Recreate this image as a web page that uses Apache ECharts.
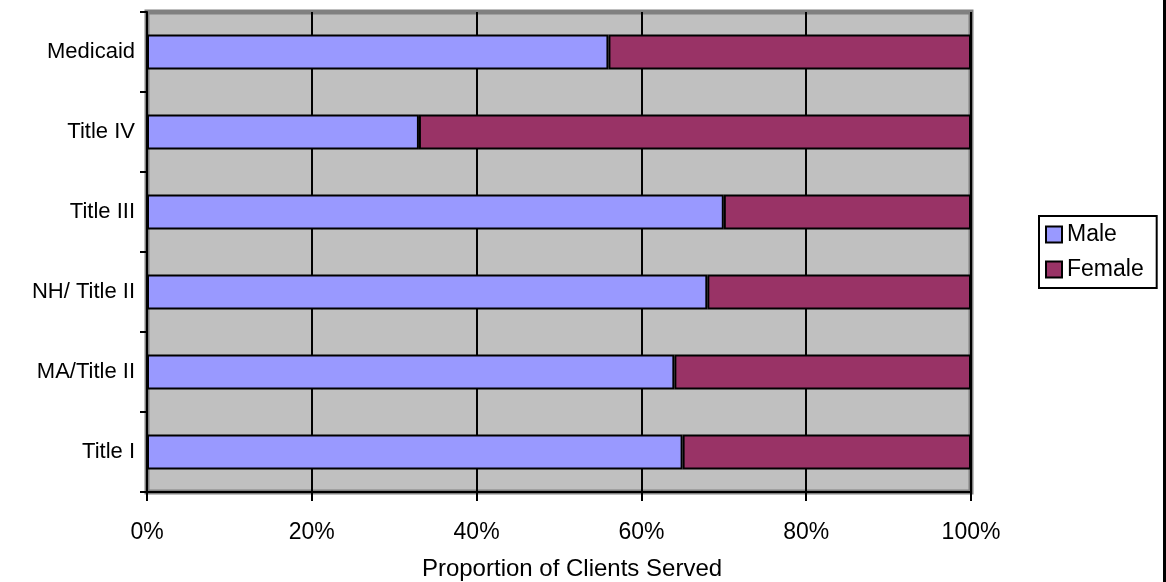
<!DOCTYPE html>
<html>
<head>
<meta charset="utf-8">
<title>Proportion of Clients Served</title>
<script src="https://cdn.jsdelivr.net/npm/echarts@6/dist/echarts.min.js"></script>
<style>
  html, body { margin: 0; padding: 0; background: #fff; }
  #main { width: 1166px; height: 582px; }
</style>
</head>
<body>
<div id="main"></div>
<script>
// categories, bottom to top (value axis runs left to right)
var programs = ['Title I', 'MA/Title II', 'NH/ Title II', 'Title III', 'Title IV', 'Medicaid'];
// share of clients, in percent
var male = [65, 64, 68, 70, 33, 56];
var female = [35, 36, 32, 30, 67, 44];
var xTicks = [0, 20, 40, 60, 80, 100];

var font = "'Liberation Sans', Arial, sans-serif";
var myChart = echarts.init(document.getElementById('main'));

myChart.setOption({
  backgroundColor: '#fff',
  animation: false,
  textStyle: { fontFamily: font },
  grid: {
    left: 147,
    right: 195,
    top: 12,
    bottom: 90,
    outerBoundsMode: 'none',
    show: true,
    backgroundColor: '#C0C0C0',
    borderColor: '#808080',
    borderWidth: 5
  },
  legend: {
    data: ['Male', 'Female'],
    orient: 'vertical',
    left: 1039,
    top: 216,
    icon: 'rect',
    itemWidth: 16,
    itemHeight: 16,
    itemGap: 12,
    padding: [7, 13, 7, 6],
    borderColor: '#000',
    borderWidth: 2,
    textStyle: { color: '#000', fontSize: 23, fontFamily: font }
  },
  xAxis: {
    type: 'value',
    min: xTicks[0],
    max: xTicks[xTicks.length - 1],
    interval: 20,
    name: 'Proportion of Clients Served',
    nameLocation: 'middle',
    nameGap: 65,
    nameTextStyle: { color: '#000', fontSize: 24, fontFamily: font, padding: [0, 0, 0, 26] },
    axisLine: { show: true, lineStyle: { color: '#000', width: 2 } },
    axisTick: { show: true, length: 9, lineStyle: { color: '#000', width: 2 } },
    axisLabel: {
      color: '#000',
      fontSize: 23,
      margin: 29,
      formatter: '{value}%'
    },
    splitLine: { show: true, lineStyle: { color: '#000', width: 2 } }
  },
  yAxis: {
    type: 'category',
    data: programs,
    axisLine: { show: true, lineStyle: { color: '#000', width: 2 } },
    axisTick: { show: true, length: 7, lineStyle: { color: '#000', width: 2 } },
    axisLabel: { color: '#000', fontSize: 22, margin: 12 },
    splitLine: { show: false }
  },
  series: [{
    name: 'Male',
    type: 'bar',
    stack: 'share',
    barWidth: 35,
    data: male,
    itemStyle: { color: '#9999FF', borderColor: '#000', borderWidth: 2 }
  }, {
    name: 'Female',
    type: 'bar',
    stack: 'share',
    barWidth: 35,
    data: female,
    itemStyle: { color: '#993366', borderColor: '#000', borderWidth: 2 }
  }],
  graphic: [{
    type: 'rect',
    left: 1163,
    top: 0,
    shape: { width: 3, height: 582 },
    style: { fill: '#000' },
    silent: true
  }]
});

window.addEventListener('resize', function() {
  myChart.resize();
});
</script>
</body>
</html>
